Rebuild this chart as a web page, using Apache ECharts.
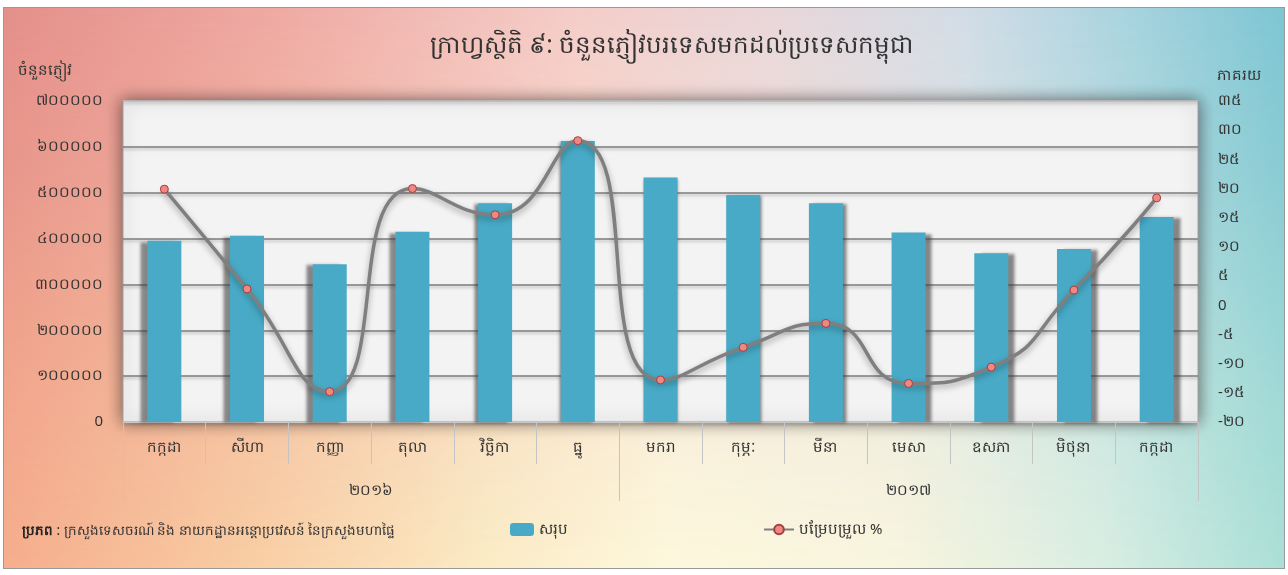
<!DOCTYPE html>
<html>
<head>
<meta charset="utf-8">
<script src="https://cdn.jsdelivr.net/npm/echarts@6.0.0/dist/echarts.min.js"></script>
<style>
  html, body { margin: 0; padding: 0; background: #ffffff; }
  #wrap { position: relative; width: 1288px; height: 575px; overflow: hidden; }
  #bgBottom, #bgTop {
    position: absolute; left: 3px; top: 7px; width: 1281px; height: 561px;
  }
  #bgBottom {
    background: linear-gradient(to right, #f6ae8d 0%, #f9cfa5 20%, #fbecc6 38%, #fdf8dd 52%, #f8f5df 70%, #d9eee3 86%, #abe0d7 100%);
  }
  #bgTop {
    background: linear-gradient(to right, #e48f8a 0%, #efaaa4 22%, #f5cdc9 45%, #e9d6d9 60%, #d2dce6 75%, #a7d3de 88%, #7dc5d2 100%);
    -webkit-mask-image: linear-gradient(to bottom, rgba(0,0,0,1) 0%, rgba(0,0,0,0.75) 30%, rgba(0,0,0,0.25) 70%, rgba(0,0,0,0) 100%);
    mask-image: linear-gradient(to bottom, rgba(0,0,0,1) 0%, rgba(0,0,0,0.75) 30%, rgba(0,0,0,0.25) 70%, rgba(0,0,0,0) 100%);
  }
  #frame { position: absolute; left: 3px; top: 7px; width: 1280px; height: 560px; border: 1px solid #9a9a9a; }
  #chart { position: absolute; left: 0; top: 0; width: 1288px; height: 575px; }
</style>
</head>
<body>
<div id="wrap">
  <div id="bgBottom"></div>
  <div id="bgTop"></div>
  <div id="frame"></div>
  <div id="chart"></div>
</div>
<script>
// ---- data ----
const months = ['កក្កដា','សីហា','កញ្ញា','តុលា','វិច្ឆិកា','ធ្នូ','មករា','កុម្ភៈ','មីនា','មេសា','ឧសភា','មិថុនា','កក្កដា'];
const years = ['២០១៦','២០១៧'];
const yearSpans = [6, 7];
const totals = [395000, 406000, 344000, 415000, 477000, 613000, 533000, 495000, 477000, 413000, 368000, 377000, 447000];
const changePct = [19.9, 2.8, -14.8, 20.0, 15.5, 28.2, -12.8, -7.2, -3.1, -13.4, -10.6, 2.6, 18.4];
const leftTicks = ['0','១០០០០០','២០០០០០','៣០០០០០','៤០០០០០','៥០០០០០','៦០០០០០','៧០០០០០'];
const rightTicks = ['-២០','-១៥','-១០','-៥','0','៥','១០','១៥','២០','២៥','៣០','៣៥'];
const seriesNames = ['សរុប', 'បម្រែបម្រួល %'];
const titleText = 'ក្រាហ្វស្ថិតិ ៩: ចំនួនភ្ញៀវបរទេសមកដល់ប្រទេសកម្ពុជា';
const leftAxisName = 'ចំនួនភ្ញៀវ';
const rightAxisName = 'ភាគរយ';
const sourceLabel = 'ប្រភព';
const sourceText = ' : ក្រសួងទេសចរណ៍ និង នាយកដ្ឋានអន្តោប្រវេសន៍ នៃក្រសួងមហាផ្ទៃ';

// ---- build year axis (half-step points) ----
const yearAxisData = new Array(months.length * 2 + 1).fill('');
const yearBoundaries = [0];
let pos = 0;
years.forEach((y, k) => {
  yearAxisData[2 * pos + yearSpans[k]] = y;
  pos += yearSpans[k];
  yearBoundaries.push(pos);
});

const FONT = '"Noto Sans", "DejaVu Sans", sans-serif';
const mid = (months.length - 1) / 2;
const barData = totals.map((v, i) => {
  const d = i - mid;
  const off = Math.sign(d) * Math.min(Math.abs(d), 3) * 2.3;
  return {
    value: v,
    itemStyle: { shadowOffsetX: off, shadowOffsetY: 1, shadowBlur: 3, shadowColor: 'rgba(60,60,60,0.6)' }
  };
});

const TICK_LEN = 42, YEAR_TICK_LEN = 37;
const SEP_COLOR = '#c4c4c4';

const chart = echarts.init(document.getElementById('chart'), null, { renderer: 'canvas' });
const baseGraphic = [
  { id: 'title', type: 'text', x: 672, y: 46, style: { text: titleText, font: '24.5px ' + FONT, fill: '#333', align: 'center', verticalAlign: 'middle' } },
  { id: 'lname', type: 'text', x: 18, y: 71, style: { text: leftAxisName, font: '15px ' + FONT, fill: '#333', align: 'left', verticalAlign: 'middle' } },
  { id: 'rname', type: 'text', x: 1217, y: 76, style: { text: rightAxisName, font: '15px ' + FONT, fill: '#333', align: 'left', verticalAlign: 'middle' } },
  { id: 'source', type: 'text', x: 22, y: 531, style: {
      text: '{b|' + sourceLabel + '}{n|' + sourceText + '}',
      verticalAlign: 'middle', align: 'left',
      rich: {
        b: { fontSize: 13.5, fontWeight: 'bold', fill: '#222', fontFamily: FONT },
        n: { fontSize: 13.5, fill: '#333', fontFamily: FONT }
      } } }
];

chart.setOption({
  backgroundColor: 'transparent',
  textStyle: { fontFamily: FONT },
  animation: false,
  grid: {
    left: 123, right: 90, top: 101, bottom: 153,
    show: true,
    backgroundColor: '#f3f3f3',
    borderColor: '#a0a0a0', borderWidth: 1,
    shadowBlur: 15, shadowColor: 'rgba(40,30,30,0.65)'
  },
  legend: [
    {
      data: [seriesNames[0]], left: 505, top: 517,
      itemWidth: 24, itemHeight: 13, itemGap: 5,
      textStyle: { fontSize: 15, color: '#333', fontFamily: FONT }
    },
    {
      data: [seriesNames[1]], left: 758, top: 517,
      itemWidth: 30, itemHeight: 12, itemGap: 3,
      textStyle: { fontSize: 15, color: '#333', fontFamily: FONT }
    }
  ],
  xAxis: [
    {
      type: 'category', data: months, position: 'bottom',
      boundaryGap: true,
      axisLine: { show: true, lineStyle: { color: '#c8c8c8', width: 1 } },
      axisTick: { show: true, interval: 0, length: TICK_LEN, lineStyle: { color: SEP_COLOR, width: 1 } },
      axisLabel: { interval: 0, margin: 18, fontSize: 15, color: '#333', fontFamily: FONT },
      splitLine: { show: false }
    },
    {
      type: 'category', data: yearAxisData, position: 'bottom', offset: TICK_LEN,
      boundaryGap: false,
      axisLine: { show: false },
      axisTick: { show: false },
      axisLabel: { interval: 0, margin: 19, fontSize: 15, color: '#333', fontFamily: FONT },
      splitLine: { show: false }
    }
  ],
  yAxis: [
    {
      type: 'value', min: 0, max: 700000, interval: 100000, position: 'left',
      axisLine: { show: false }, axisTick: { show: false },
      axisLabel: { margin: 20, fontSize: 15, color: '#333', fontFamily: FONT,
        formatter: (v) => leftTicks[Math.round(v / 100000)] },
      splitLine: { show: true, lineStyle: {
        color: ['#c0c0c0','#7c7c7c','#7c7c7c','#7c7c7c','#7c7c7c','#7c7c7c','#7c7c7c','#c0c0c0'],
        width: 1.6, shadowColor: 'rgba(0,0,0,0.25)', shadowBlur: 3, shadowOffsetY: 2 } }
    },
    {
      type: 'value', min: -20, max: 35, interval: 5, position: 'right',
      axisLine: { show: false }, axisTick: { show: false },
      axisLabel: { margin: 20, fontSize: 15, color: '#333', fontFamily: FONT,
        formatter: (v) => rightTicks[Math.round((v + 20) / 5)] },
      splitLine: { show: false }
    }
  ],
  series: [
    {
      name: seriesNames[0], type: 'bar', xAxisIndex: 0, yAxisIndex: 0,
      barWidth: 34, data: barData,
      itemStyle: { color: '#48aac6' }, z: 2
    },
    {
      name: seriesNames[1], type: 'line', xAxisIndex: 0, yAxisIndex: 1,
      data: changePct, smooth: 0.55,
      symbol: 'circle', symbolSize: 8,
      lineStyle: { color: '#7f7f7f', width: 3.5, shadowColor: 'rgba(0,0,0,0.35)', shadowBlur: 6, shadowOffsetY: 3 },
      itemStyle: { color: '#f08783', borderColor: '#a04040', borderWidth: 1 },
      z: 5
    }
  ],
  graphic: baseGraphic
});

// year separators at group boundaries, positioned through the category axis scale
const c0 = chart.convertToPixel({ xAxisIndex: 0 }, 0);
const c1 = chart.convertToPixel({ xAxisIndex: 0 }, 1);
const band = c1 - c0;
const yBase = chart.convertToPixel({ yAxisIndex: 0 }, 0);
const sepLines = yearBoundaries.map((b, k) => {
  const x = Math.round(c0 - band / 2 + b * band) + 0.5;
  return {
    id: 'ysep' + k, type: 'line', z: 10,
    shape: { x1: x, y1: yBase + TICK_LEN, x2: x, y2: yBase + TICK_LEN + YEAR_TICK_LEN },
    style: { stroke: SEP_COLOR, lineWidth: 1 }
  };
});
chart.setOption({ graphic: baseGraphic.concat(sepLines) });
</script>
</body>
</html>
